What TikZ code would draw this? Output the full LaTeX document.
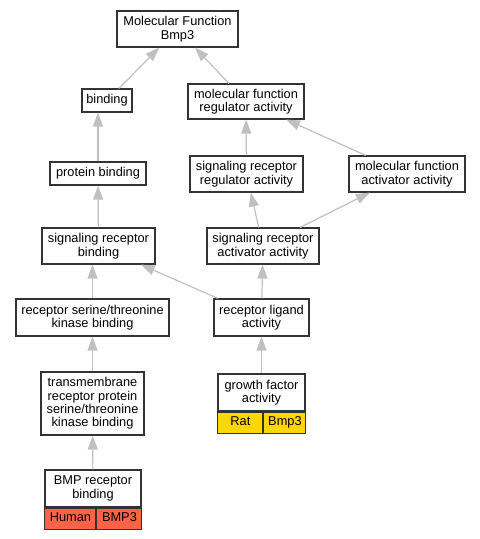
\documentclass[tikz,border=0pt]{standalone}
\usepackage{fontspec}
\setmainfont{Liberation Sans}
\usepackage{xcolor}
\usetikzlibrary{arrows.meta,shapes,calc,positioning}
\definecolor{edgegray}{RGB}{192,192,192}
\definecolor{humanred}{RGB}{255,99,71}
\definecolor{ratgold}{RGB}{255,215,0}

\begin{document}
\begin{tikzpicture}[x=1pt,y=-1pt]
	\tikzstyle{every node}=[font=\fontsize{12.8}{13.4}\selectfont]
	\tikzstyle{term}=[draw=black!80, line width=1.1pt, fill=white, align=center, inner sep=0pt]
	\tikzstyle{gene}=[draw=black!80, line width=1pt, inner sep=0pt, minimum height=21pt, text height=9.2pt, text depth=2.6pt]
	\tikzstyle{isa}=[draw=edgegray, line width=1.2pt, -{Triangle[length=14pt,width=10pt]}]
	\useasboundingbox (0,0) rectangle (480,539);
	% terms
	\node[term, minimum width=121, minimum height=36] (mf) at (177.5,29) {Molecular Function\\Bmp3};
	\node[term, minimum width=50, minimum height=23] (bind) at (107,100.5) {binding};
	\node[term, minimum width=116, minimum height=35] (mfreg) at (246,101.5) {molecular function\\regulator activity};
	\node[term, minimum width=96, minimum height=23] (prot) at (98,173.5) {protein binding};
	\node[term, minimum width=113, minimum height=36] (srreg) at (246.5,174) {signaling receptor\\regulator activity};
	\node[term, minimum width=116, minimum height=36] (mfact) at (407,174) {molecular function\\activator activity};
	\node[term, minimum width=113, minimum height=36] (srbind) at (98.5,246) {signaling receptor\\binding};
	\node[term, minimum width=112, minimum height=36] (sract) at (263,246) {signaling receptor\\activator activity};
	\node[term, minimum width=153, minimum height=37] (rstk) at (92.5,317.5) {receptor serine/threonine\\kinase binding};
	\node[term, minimum width=95, minimum height=37] (rla) at (261.5,317.5) {receptor ligand\\activity};
	\node[term, minimum width=103, minimum height=63] (tmrp) at (92.5,403.5) {transmembrane\\receptor protein\\serine/threonine\\kinase binding};
	\node[term, minimum width=87, minimum height=37] (gf) at (261.5,392.5) {growth factor\\activity};
	\node[gene, fill=ratgold, minimum width=45pt, anchor=north west] (rat) at (gf.south west) {Rat};
	\node[gene, fill=ratgold, minimum width=42pt, anchor=north west] (ratgene) at (rat.north east) {Bmp3};
	\node[term, minimum width=96, minimum height=37] (bmpr) at (93,488.5) {BMP receptor\\binding};
	\node[gene, fill=humanred, minimum width=51pt, anchor=north west] (human) at (bmpr.south west) {Human};
	\node[gene, fill=humanred, minimum width=45pt, anchor=north west] (humangene) at (human.north east) {BMP3};
	% is_a edges
	\draw[isa] (bind) -- (mf);
	\draw[isa] (mfreg) -- (mf);
	\draw[isa] (prot.north) -- (prot.north |- bind.south);
	\draw[isa] (srreg) -- (mfreg);
	\draw[isa] (mfact) -- (mfreg);
	\draw[isa] (srbind) -- (prot);
	\draw[isa] (sract) -- (srreg);
	\draw[isa] (sract) -- (mfact);
	\draw[isa] (rstk.north) -- (rstk.north |- srbind.south);
	\draw[isa] (rla) -- (srbind);
	\draw[isa] (rla) -- (sract);
	\draw[isa] (tmrp) -- (rstk);
	\draw[isa] (gf) -- (rla);
	\draw[isa] (bmpr) -- (tmrp);
\end{tikzpicture}
\end{document}
